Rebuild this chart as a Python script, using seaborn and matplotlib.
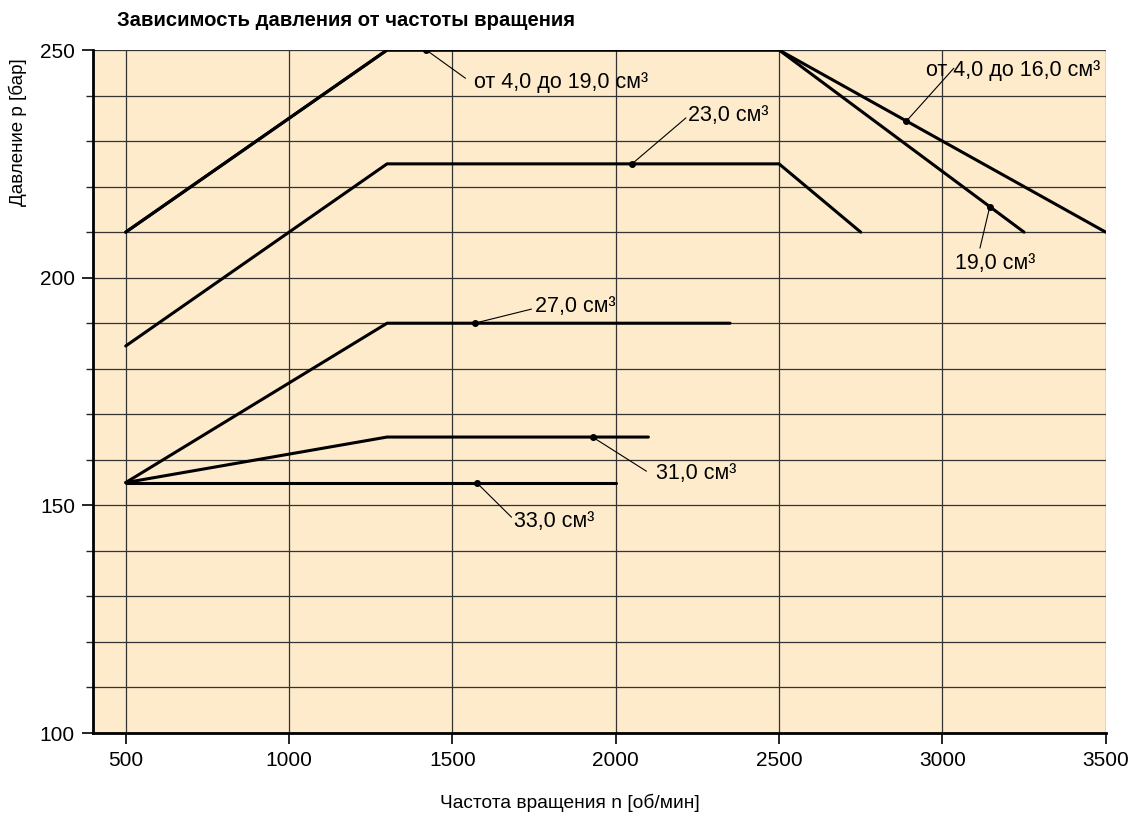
import pandas as pd
import numpy as np
import seaborn as sns
import matplotlib.pyplot as plt
from matplotlib.ticker import MultipleLocator

## Data: speed [rpm] vs pressure [bar] for each displacement
curves = {
    'от 4,0 до 16,0': ([500, 1300, 2500, 3500], [210, 250, 250, 210]),
    '19,0':           ([500, 1300, 2500, 3250], [210, 250, 250, 210]),
    '23,0':           ([500, 1300, 2500, 2750], [185, 225, 225, 210]),
    '27,0':           ([500, 1300, 2350], [155, 190, 190]),
    '31,0':           ([500, 1300, 2100], [155, 165, 165]),
    '33,0':           ([500, 2000], [155, 155]),
}

# label text, point on curve, text position, end of leader line
labels = ['от 4,0 до 19,0 см³', 'от 4,0 до 16,0 см³', '19,0 см³', '23,0 см³',
          '27,0 см³', '31,0 см³', '33,0 см³']
dot_x = [1420, 2890, 3145, 2050, 1568, 1929, 1574]
dot_y = [250, 234.4, 215.6, 225, 190, 165, 155]
text_x = [1565, 2950, 3040, 2222, 1752, 2122, 1690]
text_y = [242.8, 245.6, 203.2, 235.6, 193.6, 156.9, 146.4]
line_end_x = [1540, 3035, 3115, 2215, 1742, 2094, 1681]
line_end_y = [243.8, 246.0, 206.5, 235.1, 193.1, 157.5, 147.4]

xticks = [500, 1000, 1500, 2000, 2500, 3000, 3500]
yticks = [100, 150, 200, 250]

rows = []
for name, (xs, ys) in curves.items():
    for x, y in zip(xs, ys):
        rows.append({'curve': name, 'n': x, 'p': y})
df = pd.DataFrame(rows)

## Plot
sns.set_style('white')
plt.rcParams['font.family'] = ['Liberation Sans', 'DejaVu Sans']
plt.rcParams['text.color'] = 'black'

fig = plt.figure(figsize=(11.43, 8.16), dpi=100)
ax = fig.add_axes([0.0814, 0.1017, 0.886, 0.837])
ax.set_facecolor('#fdebcc')

sns.lineplot(data=df, x='n', y='p', units='curve', estimator=None, sort=False,
             color='black', linewidth=2.2, ax=ax)

for lab, dx, dy, tx, ty, lx, ly in zip(labels, dot_x, dot_y, text_x, text_y,
                                       line_end_x, line_end_y):
    ax.plot([dx, lx], [dy, ly], color='black', linewidth=0.8, zorder=4)
    ax.plot(dx, dy, 'o', color='black', markersize=4, zorder=5)
    ax.text(tx, ty, lab, fontsize=15.5, va='center', ha='left', color='black', zorder=6)

ax.set_xlim(400, 3500)
ax.set_ylim(100, 250)
ax.set_xticks(xticks)
ax.set_yticks(yticks)
ax.yaxis.set_minor_locator(MultipleLocator(10))
ax.grid(True, which='major', axis='x', color='#333333', linewidth=0.9)
ax.grid(True, which='both', axis='y', color='#333333', linewidth=0.9)
ax.set_axisbelow(True)

for s in ['top', 'right']:
    ax.spines[s].set_visible(False)
for s in ['left', 'bottom']:
    ax.spines[s].set_color('black')
    ax.spines[s].set_linewidth(2)
ax.tick_params(axis='both', which='major', direction='out', length=8, width=1.2,
               labelsize=15, colors='black', left=True, bottom=True, pad=5)
ax.tick_params(axis='y', which='minor', direction='out', length=5, width=1, left=True)

ax.set_xlabel('')
ax.set_ylabel('')
fig.text(570 / 1143, 1 - 803 / 816, 'Частота вращения n [об/мин]', fontsize=13.8,
         ha='center', va='center', color='black')
fig.text(17.5 / 1143, 1 - 58 / 816, 'Давление p [бар]', rotation=90, fontsize=13.5,
         ha='center', va='top', color='black')
fig.text(117 / 1143, 1 - 20 / 816, 'Зависимость давления от частоты вращения',
         fontsize=14.6, fontweight='bold', ha='left', va='center', color='black')

fig.savefig('out.png', dpi=100)
